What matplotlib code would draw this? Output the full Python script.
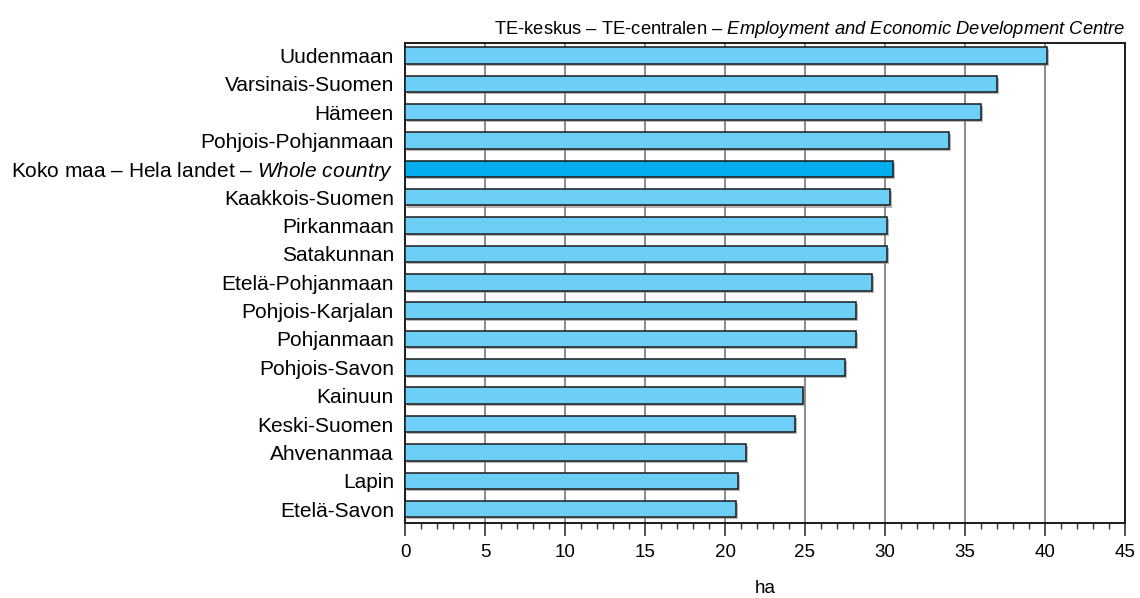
import numpy as np
import matplotlib

matplotlib.use('agg')
import matplotlib.pyplot as plt
import matplotlib.patheffects as pe

plt.rcParams['font.family'] = 'Liberation Sans'
plt.rcParams['mathtext.fontset'] = 'custom'
plt.rcParams['mathtext.rm'] = 'Liberation Sans'
plt.rcParams['mathtext.it'] = 'Liberation Sans:italic'

regions = ['Uudenmaan', 'Varsinais-Suomen', 'Hämeen', 'Pohjois-Pohjanmaan',
           r'Koko maa – Hela landet – $\mathit{Whole\ country}$',
           'Kaakkois-Suomen', 'Pirkanmaan', 'Satakunnan', 'Etelä-Pohjanmaan',
           'Pohjois-Karjalan', 'Pohjanmaan', 'Pohjois-Savon', 'Kainuun',
           'Keski-Suomen', 'Ahvenanmaa', 'Lapin', 'Etelä-Savon']
hectares = [40.1, 37.0, 36.0, 34.0, 30.5, 30.3, 30.1, 30.1, 29.2,
            28.2, 28.2, 27.5, 24.9, 24.4, 21.3, 20.8, 20.7]
highlight = 4  # whole country row

colors = ['#6dcff6'] * len(regions)
colors[highlight] = '#00aeef'

fig = plt.figure(figsize=(11.4, 5.98), dpi=100)
ax = fig.add_axes([0.3553, 0.1259, 0.6315, 0.8027])

y_pos = np.arange(len(regions))
bars = ax.barh(y_pos, hectares, height=0.58, color=colors,
               edgecolor='#1a1a1a', linewidth=1.1, zorder=3)
for b in bars:
    b.set_path_effects([pe.SimplePatchShadow(offset=(1.5, -1.5),
                                             shadow_rgbFace='#888888', alpha=0.6),
                        pe.Normal()])

ax.set_xlim(0, 45)
ax.set_ylim(16.48, -0.45)
ax.set_xticks(np.arange(0, 46, 5))
ax.set_xticks(np.arange(0, 46, 1), minor=True)
ax.set_yticks(y_pos)
ax.set_yticklabels(regions)

for x in range(5, 45, 5):
    ax.axvline(x, color='#8a8a8a', linewidth=1.4, zorder=1)

ax.tick_params(axis='y', length=0, pad=8, labelsize=15)
ax.tick_params(axis='x', which='major', length=9, width=1.2, labelsize=13.5,
               pad=6, color='#333333')
ax.tick_params(axis='x', which='minor', length=4.5, width=1.0, color='#333333')

for s in ax.spines.values():
    s.set_linewidth(1.4)
    s.set_color('#1a1a1a')

ax.set_title(r'TE-keskus – TE-centralen – $\mathit{Employment\ and\ Economic\ Development\ Centre}$',
             loc='right', fontsize=13.2, pad=6)
ax.set_xlabel('ha', fontsize=13.5, labelpad=14)

plt.savefig('out.png', dpi=100)
